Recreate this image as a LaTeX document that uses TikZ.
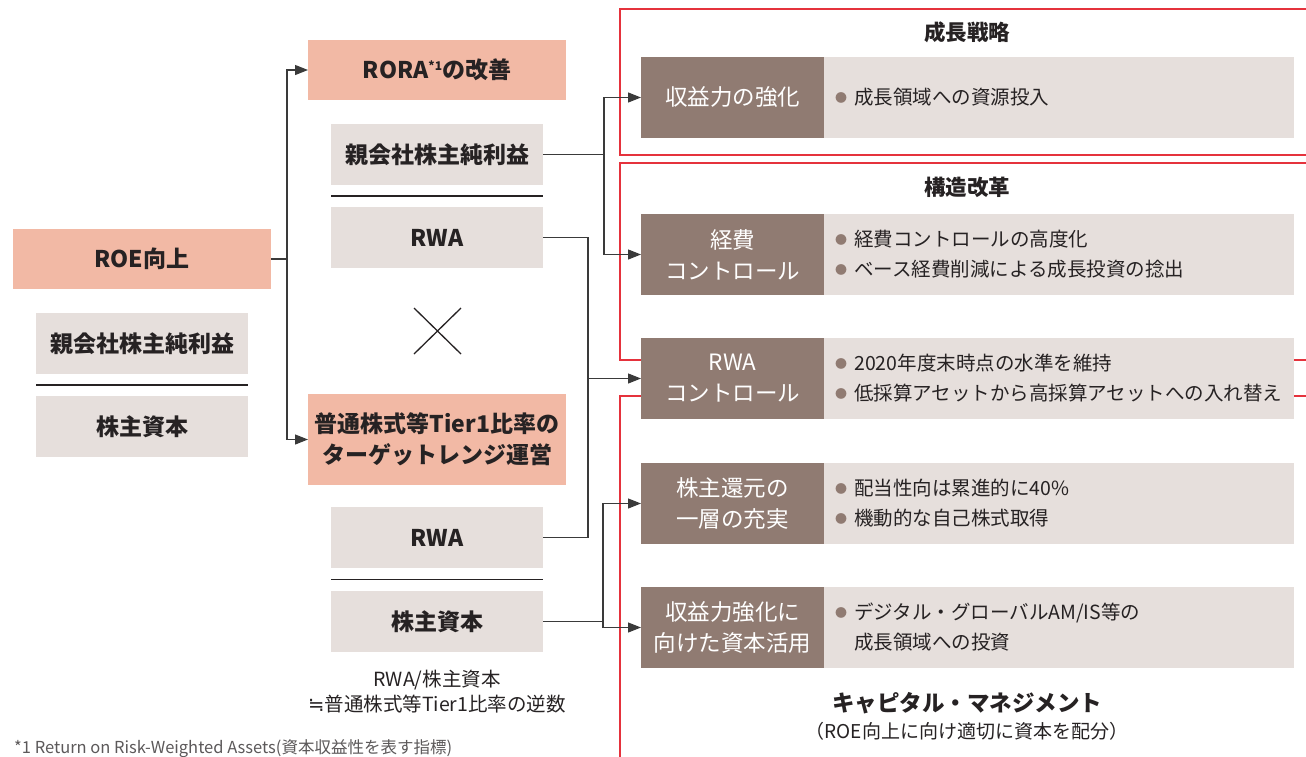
\documentclass[tikz,border=0pt]{standalone}
\usepackage{fontspec}
\setmainfont{Noto Sans CJK JP}
\newfontfamily\symfont{DejaVu Sans}
\usetikzlibrary{arrows.meta,calc}
\definecolor{salmonc}{HTML}{F2B9A5}
\definecolor{beigec}{HTML}{E6DFDC}
\definecolor{brownc}{HTML}{907B72}
\definecolor{txtc}{HTML}{262223}
\definecolor{redc}{HTML}{E5323C}
\definecolor{linec}{HTML}{3A3A3A}
\newcommand{\fsz}[2]{\fontsize{#1}{#2}\selectfont}
\newcommand{\bul}{\raisebox{2pt}{\textcolor{brownc}{\fsz{12}{12}●}}\hspace{7pt}}
\begin{document}
\begin{tikzpicture}[x=1pt,y=-1pt,
  box/.style={anchor=north west, inner sep=0pt, outer sep=0pt, align=center, text=txtc, font=\fsz{23}{31}\bfseries},
  sbox/.style={box, fill=salmonc, minimum width=258pt},
  gbox/.style={box, fill=beigec, minimum width=212pt, minimum height=61pt},
  dbox/.style={anchor=north west, inner sep=0pt, outer sep=0pt, align=center, fill=brownc, text=white, minimum width=183pt, minimum height=81pt, font=\fsz{22.5}{31}},
  lbox/.style={anchor=north west, inner sep=0pt, outer sep=0pt, fill=beigec, minimum width=470pt, minimum height=81pt},
  btext/.style={anchor=west, inner sep=0pt, align=left, text=txtc, font=\fsz{19.5}{30}},
  frame/.style={draw=redc, line width=1.1pt},
  conn/.style={draw=linec, line width=1.1pt},
  arr/.style={conn, -{Triangle[length=13pt,width=10pt]}},
  head/.style={text=txtc, font=\fsz{21.5}{26}\bfseries},
  divider/.style={draw=txtc, line width=1.1pt}]
\useasboundingbox (0,0) rectangle (1306,756);
\fill[white] (0,0) rectangle (1306,756);

% red frames
\draw[frame] (620,9) rectangle (1340,155);
\draw[frame] (620,163) rectangle (1340,360);
\draw[frame] (620,396) rectangle (1340,790);
\node[head] (h1) at (967,32) {成長戦略};
\node[head] (h2) at (967,187) {構造改革};
\node[head, font=\fsz{22.5}{26}\bfseries] (h3) at (967,703) {キャピタル・マネジメント};
\node[text=txtc, font=\fsz{19}{24}] (h3b) at (967,731) {（ROE向上に向け適切に資本を配分）};

% left column
\node[sbox, minimum height=60pt] (roe) at (13,229) {ROE向上};
\node[gbox] (lnum) at (36,313) {親会社株主純利益};
\node[gbox] (lden) at (36,396) {株主資本};
\draw[divider] ($(lnum.south west)!0.5!(lden.north west)$) -- ($(lnum.south east)!0.5!(lden.north east)$);

% middle column
\node[sbox, minimum height=60pt] (rora) at (308,40) {RORA\raisebox{8pt}{\fsz{12}{12}*1}の改善};
\node[gbox] (mnum) at (331,124) {親会社株主純利益};
\node[gbox] (rwa1) at (331,207) {RWA};
\draw[divider] ($(mnum.south west)!0.5!(rwa1.north west)$) -- ($(mnum.south east)!0.5!(rwa1.north east)$);
\draw[draw=txtc, line width=1.3pt] (414,308) -- (461,354) (414,354) -- (461,308);
\node[sbox, minimum height=91pt] (tier) at (308,394) {普通株式等Tier1比率の\\ターゲットレンジ運営};
\node[gbox] (rwa2) at (331,507) {RWA};
\node[gbox] (mden) at (331,591) {株主資本};
\draw[divider] ($(rwa2.south west)!0.5!(mden.north west)$) -- ($(rwa2.south east)!0.5!(mden.north east)$);
\node[text=txtc, align=center, font=\fsz{19.5}{25}] (note) at (437,692) {RWA/株主資本\\{\symfont ≒}普通株式等Tier1比率の逆数};
\node[anchor=west, inner sep=0pt, text=txtc!75, font=\fsz{16.5}{20}] (fn) at (14,749) {*1 Return on Risk-Weighted Assets(資本収益性を表す指標)};

% right rows
\node[dbox] (d1) at (641,57) {収益力の強化};
\node[lbox] (l1) at (824,57) {};
\node[btext] (b1) at ([xshift=11pt]l1.west) {\bul 成長領域への資源投入};

\node[dbox] (d2) at (641,214) {経費\\コントロール};
\node[lbox] (l2) at (824,214) {};
\node[btext] (b2) at ([xshift=11pt]l2.west) {\bul 経費コントロールの高度化\\\bul ベース経費削減による成長投資の捻出};

\node[dbox] (d3) at (641,338) {RWA\\コントロール};
\node[lbox] (l3) at (824,338) {};
\node[btext] (b3) at ([xshift=11pt]l3.west) {\bul 2020年度末時点の水準を維持\\\bul 低採算アセットから高採算アセットへの入れ替え};

\node[dbox] (d4) at (641,463) {株主還元の\\一層の充実};
\node[lbox] (l4) at (824,463) {};
\node[btext] (b4) at ([xshift=11pt]l4.west) {\bul 配当性向は累進的に40\%\\\bul 機動的な自己株式取得};

\node[dbox] (d5) at (641,587) {収益力強化に\\向けた資本活用};
\node[lbox] (l5) at (824,587) {};
\node[btext] (b5) at ([xshift=11pt]l5.west) {\bul デジタル・グローバルAM/IS等の\\\phantom{\bul}成長領域への投資};

% connectors
\coordinate (j1) at ($(roe.east)+(16,0)$);
\draw[conn] (roe.east) -- (j1);
\draw[arr] (j1) |- (rora.west);
\draw[arr] (j1) |- (tier.west);

\coordinate (j2) at ($(mnum.east)+(61,0)$);
\draw[conn] (mnum.east) -- (j2);
\draw[arr] (j2) |- (d1.west);
\draw[arr] (j2) |- (d2.west);

\coordinate (j3) at ($(rwa1.east)+(45,0)$);
\draw[conn] (rwa1.east) -- (j3) |- (rwa2.east);
\draw[arr] (j3 |- d3.west) -- (d3.west);

\coordinate (j4) at ($(mden.east)+(60,0)$);
\draw[conn] (mden.east) -- (j4);
\draw[arr] (j4) |- (d4.west);
\draw[arr] (j4) |- (d5.west);
\end{tikzpicture}
\end{document}
